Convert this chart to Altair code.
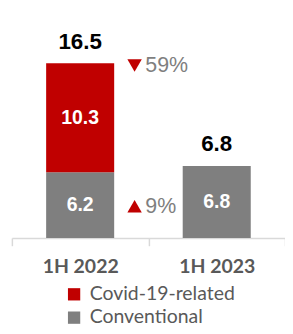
import altair as alt
import pandas as pd

# ---- data ----
periods = ["1H 2022", "1H 2023"]
conventional = [6.2, 6.8]
covid = [10.3, None]
totals = [16.5, 6.8]
series_names = ["Covid-19-related", "Conventional"]
series_colors = ["#c00000", "#7f7f7f"]
change_shapes = ["triangle-down", "triangle-up"]
change_labels = ["59%", "9%"]
change_levels = [16.3, 3.0]

# ---- tables built from the arrays ----
rows = []
for p, cv, cd in zip(periods, conventional, covid):
    rows.append({"period": p, "series": "Conventional", "y0": 0.0, "y1": cv,
                 "mid": cv / 2, "label": f"{cv:.1f}"})
    if cd is not None:
        rows.append({"period": p, "series": "Covid-19-related", "y0": cv, "y1": cv + cd,
                     "mid": cv + cd / 2, "label": f"{cd:.1f}"})
bar_df = pd.DataFrame(rows)
tot_df = pd.DataFrame({"period": periods, "total": totals,
                       "label": [f"{t:.1f}" for t in totals]})
chg_df = pd.DataFrame({"period": [periods[0]] * 2, "shape": change_shapes,
                       "label": change_labels, "level": change_levels})

xscale = alt.Scale(domain=periods, paddingInner=0, paddingOuter=0)
yscale = alt.Scale(domain=[0, 21.3])

x_axis = alt.Axis(title=None, labelFont="Lato", labelFontSize=20, labelFontWeight="bold",
                  labelColor="#595959", domainColor="#d9d9d9", domainWidth=1.5,
                  tickColor="#d9d9d9", tickWidth=1.5, tickSize=8, tickBand="extent",
                  labelPadding=12, labelAngle=0)

bars = alt.Chart(bar_df).mark_bar(size=70).encode(
    x=alt.X("period:N", scale=xscale, axis=x_axis),
    y=alt.Y("y0:Q", scale=yscale, axis=None),
    y2="y1:Q",
    color=alt.Color("series:N", scale=alt.Scale(domain=series_names, range=series_colors),
                    legend=alt.Legend(title=None, orient="none", legendX=54, legendY=280,
                                      labelFont="Lato", labelFontSize=20, labelColor="#595959",
                                      symbolType="square", symbolSize=160, symbolStrokeWidth=0,
                                      rowPadding=4, labelOffset=6)),
)

seg_labels = alt.Chart(bar_df).mark_text(font="Liberation Sans", fontSize=20,
                                         fontWeight="bold", color="white").encode(
    x=alt.X("period:N", scale=xscale),
    y=alt.Y("mid:Q", scale=yscale),
    text="label:N",
)

tot_labels = alt.Chart(tot_df).mark_text(font="Liberation Sans", fontSize=23, fontWeight="bold",
                                         color="black", baseline="bottom", dy=-10).encode(
    x=alt.X("period:N", scale=xscale),
    y=alt.Y("total:Q", scale=yscale),
    text="label:N",
)

chg_marks = alt.Chart(chg_df).mark_point(filled=True, size=220, color="#c00000", opacity=1,
                                         xOffset=56).encode(
    x=alt.X("period:N", scale=xscale),
    y=alt.Y("level:Q", scale=yscale),
    shape=alt.Shape("shape:N", scale=None),
)

chg_text = alt.Chart(chg_df).mark_text(font="Liberation Sans", fontSize=22, color="#7f7f7f",
                                       align="left", dx=67).encode(
    x=alt.X("period:N", scale=xscale),
    y=alt.Y("level:Q", scale=yscale),
    text="label:N",
)

chart = alt.layer(bars, seg_labels, tot_labels, chg_marks, chg_text).properties(
    width=281, height=232,
    autosize=alt.AutoSizeParams(type="none"),
    padding={"left": 4, "top": 0, "right": 0, "bottom": 86},
).configure_view(stroke=None)

chart.save("out.html", embed_options={"renderer": "svg", "actions": False})
